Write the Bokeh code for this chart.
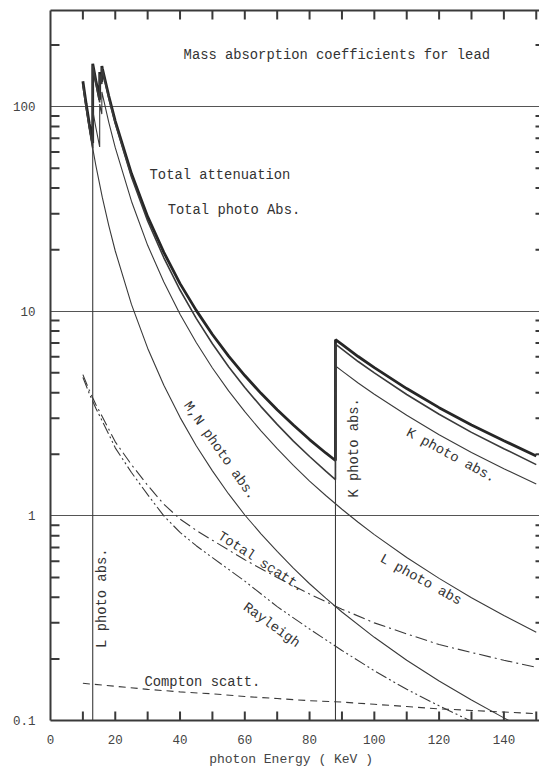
import math
from bokeh.plotting import figure
from bokeh.models import Range1d, FixedTicker, LinearAxis, CustomJSTickFormatter
from bokeh.core.properties import value
from bokeh.embed import file_html
from bokeh.resources import INLINE

# ---------------- data ----------------
total_energy = [10, 11, 12, 13.03, 13.04, 14, 15.19, 15.2, 15.85, 15.86, 16, 18, 20, 25, 30, 35, 40,
                45, 50, 55, 60, 65, 70, 75, 80, 85, 87.99, 88.0, 90, 95, 100, 110, 120, 130, 140, 150]
total_atten = [133, 103.5, 82.3, 66.4, 162, 134, 108, 147.5, 132, 158, 154, 112.7, 85, 47.1, 29.0, 19.4,
               13.65, 10.1, 7.7, 6.04, 4.85, 3.97, 3.30, 2.78, 2.36, 2.03, 1.865, 7.26, 6.88, 6.01, 5.30,
               4.19, 3.38, 2.78, 2.33, 1.96]
total_photo = [128, 99, 78.2, 62.6, 158.6, 130.8, 104.8, 144.3, 128.9, 154.9, 151.2, 110.0, 82.7, 45.3,
               27.6, 18.25, 12.7, 9.23, 6.94, 5.36, 4.24, 3.42, 2.80, 2.32, 1.95, 1.654, 1.505, 6.9, 6.53,
               5.68, 5.0, 3.92, 3.14, 2.56, 2.13, 1.78]

mn_energy = [10, 11, 12, 13, 14, 16, 18, 20, 25, 30, 35, 40, 45, 50, 55, 60, 65, 70, 75, 80, 85, 90,
             100, 110, 120, 130, 140, 142]
mn_photo = [128, 99, 78.2, 63, 51.6, 36, 26.2, 19.7, 10.8, 6.6, 4.35, 3.03, 2.2, 1.66, 1.28, 1.01, 0.817,
            0.67, 0.555, 0.466, 0.396, 0.339, 0.255, 0.197, 0.156, 0.126, 0.103, 0.099]

l_energy = [13.04, 13.04, 14, 15.19, 15.2, 15.85, 15.86, 18, 20, 25, 30, 35, 40, 45, 50, 55, 60, 65, 70,
            75, 80, 85, 90, 95, 100, 110, 120, 130, 140, 150]
l_photo = [0.1, 96, 79.2, 63.5, 103, 92, 118, 83.8, 63.0, 34.5, 21.0, 13.9, 9.66, 7.03, 5.28, 4.08, 3.23,
           2.60, 2.13, 1.765, 1.48, 1.258, 1.077, 0.931, 0.81, 0.626, 0.495, 0.398, 0.326, 0.270]

k_energy = [88, 88, 90, 95, 100, 110, 120, 130, 140, 150]
k_photo = [0.1, 5.4, 5.11, 4.46, 3.93, 3.10, 2.49, 2.04, 1.70, 1.43]

scatt_energy = [10, 12, 14, 16, 18, 20, 25, 30, 35, 40, 45, 50, 60, 70, 80, 90, 100, 110, 120, 130, 140, 150]
total_scatt = [4.9, 4.1, 3.5, 3.05, 2.65, 2.3, 1.78, 1.41, 1.14, 0.965, 0.85, 0.76, 0.61, 0.5, 0.415, 0.35,
               0.30, 0.265, 0.235, 0.215, 0.197, 0.182]

rayleigh_energy = [10, 12, 14, 16, 18, 20, 25, 30, 35, 40, 45, 50, 60, 70, 80, 90, 100, 110, 120, 130, 135]
rayleigh = [4.75, 3.95, 3.36, 2.9, 2.5, 2.15, 1.63, 1.27, 1.0, 0.83, 0.715, 0.625, 0.48, 0.36, 0.28, 0.22,
            0.175, 0.142, 0.118, 0.099, 0.092]

compton_energy = [10, 20, 30, 40, 50, 60, 70, 80, 90, 100, 110, 120, 130, 140, 150]
compton = [0.152, 0.147, 0.142, 0.138, 0.135, 0.131, 0.128, 0.125, 0.123, 0.12, 0.117, 0.114, 0.112, 0.110, 0.108]

x_major = [0, 20, 40, 60, 80, 100, 120, 140]
x_minor = [10, 30, 50, 70, 90, 110, 130, 150]
y_major = [0.1, 1, 10, 100]
y_minor = [0.2, 0.3, 0.4, 0.5, 0.6, 0.7, 0.8, 0.9, 2, 3, 4, 5, 6, 7, 8, 9,
           20, 30, 40, 50, 60, 70, 80, 90, 200]

# ---------------- figure ----------------
INK = "#3a3a3a"
FONT = "Liberation Mono"
W, H = 539, 772
BL, BR, BT, BB = 50, 0, 10, 52

p = figure(width=W, height=H, x_range=Range1d(0, 151), y_range=Range1d(0.1, 295),
           y_axis_type="log", output_backend="svg", toolbar_location=None,
           min_border_left=BL, min_border_right=BR, min_border_top=BT, min_border_bottom=BB)
p.outline_line_color = None
p.background_fill_color = "white"
p.border_fill_color = "white"

# axes
xa = p.xaxis[0]
xa.ticker = FixedTicker(ticks=x_major, minor_ticks=x_minor)
ya = p.yaxis[0]
ya.ticker = FixedTicker(ticks=y_major, minor_ticks=y_minor)
ya.formatter = CustomJSTickFormatter(code="return String(tick);")
for ax in (xa, ya):
    ax.axis_line_color = INK
    ax.axis_line_width = 2
    ax.major_tick_out = 0
    ax.minor_tick_out = 0
    ax.major_tick_in = 0
    ax.minor_tick_in = 0
    ax.major_label_text_font = FONT
    ax.major_label_text_font_size = "12.5px"
    ax.major_label_text_color = "#444444"
xa.major_label_standoff = 14
ya.major_label_standoff = 15
xa.axis_label = "photon Energy  ( KeV )"
xa.axis_label_text_font = FONT
xa.axis_label_text_font_size = "13px"
xa.axis_label_text_font_style = "normal"
xa.axis_label_text_color = "#444444"
xa.axis_label_standoff = 5

# top border: an axis with no ticks and no labels
top = LinearAxis(ticker=FixedTicker(ticks=[]))
top.axis_line_color = INK
top.axis_line_width = 2
top.major_tick_out = 0
top.minor_tick_out = 0
top.major_tick_in = 0
top.minor_tick_in = 0
top.major_label_standoff = 0
p.add_layout(top, "above")

p.xgrid.visible = False
p.ygrid.ticker = FixedTicker(ticks=y_major)
p.ygrid.grid_line_color = "#555555"
p.ygrid.grid_line_width = 1
p.ygrid.grid_line_alpha = 1

# inward tick marks: one broken line (NaN-separated) per frame side,
# tick length derived from the frame scale
x0, x1 = p.x_range.start, p.x_range.end
y0, y1 = p.y_range.start, p.y_range.end
frame_w = W - BL - BR
frame_h = H - BT - BB
keV_per_px = (x1 - x0) / frame_w
dec_per_px = math.log10(y1 / y0) / frame_h
NAN = float("nan")


def fy(px):
    return 10 ** (px * dec_per_px)


x_ticks = x_major[1:] + x_minor
bx, by, tx, ty = [], [], [], []
for t in x_ticks:
    bx += [t, t, NAN]
    by += [y0 * fy(0.5), y0 * fy(9), NAN]
    tx += [t, t, NAN]
    ty += [y1 / fy(0.5), y1 / fy(9), NAN]
lx, ly, rx, ry = [], [], [], []
for v in y_minor:
    lx += [x0 + 0.5 * keV_per_px, x0 + 9 * keV_per_px, NAN]
    ly += [v, v, NAN]
    rx += [x1 - 4 * keV_per_px, x1 - 0.5 * keV_per_px, NAN]
    ry += [v, v, NAN]
for xs_, ys_ in ((bx, by), (tx, ty), (lx, ly), (rx, ry)):
    p.line(xs_, ys_, line_color=INK, line_width=2)

# curves
p.line(total_energy, total_atten, line_color="#262626", line_width=2.8)
p.line(total_energy, total_photo, line_color=INK, line_width=1.6)
p.line(mn_energy, mn_photo, line_color=INK, line_width=1.1)
p.line(l_energy, l_photo, line_color=INK, line_width=1.1)
p.line(k_energy, k_photo, line_color=INK, line_width=1.1)
p.line(scatt_energy, total_scatt, line_color=INK, line_width=1.1, line_dash="12 4 2 4")
p.line(rayleigh_energy, rayleigh, line_color=INK, line_width=1.1, line_dash="12 3 2 3 2 3")
p.line(compton_energy, compton, line_color=INK, line_width=1.1, line_dash="7 5")

# labels
left_text = ["Mass absorption coefficients for lead", "Total attenuation", "Total photo Abs.", "Compton scatt."]
left_x = [41.1, 30.6, 36.2, 29.0]
left_y = [178, 46.0, 31.0, 0.1536]
p.text(x=left_x, y=left_y, text=left_text, text_font=value(FONT), text_font_size="13.8px",
       text_color="#333333", text_align="left", text_baseline="middle")

rot_text = ["L photo abs.", "K photo abs.", "M,N photo abs.", "Total scatt.", "Rayleigh",
            "K photo abs.", "L photo abs"]
rot_x = [16.07, 93.9, 52.2, 64.9, 68.2, 123.6, 114.3]
rot_y = [0.396, 2.15, 2.08, 0.595, 0.292, 1.97, 0.486]
rot_deg = [90, 90, -55, -33, -36, -28.5, -29]
p.text(x=rot_x, y=rot_y, text=rot_text, angle=[math.radians(a) for a in rot_deg],
       text_font=value(FONT), text_font_size="13.8px", text_color="#333333",
       text_align="center", text_baseline="middle")

open("out.html", "w").write(file_html(p, INLINE))
